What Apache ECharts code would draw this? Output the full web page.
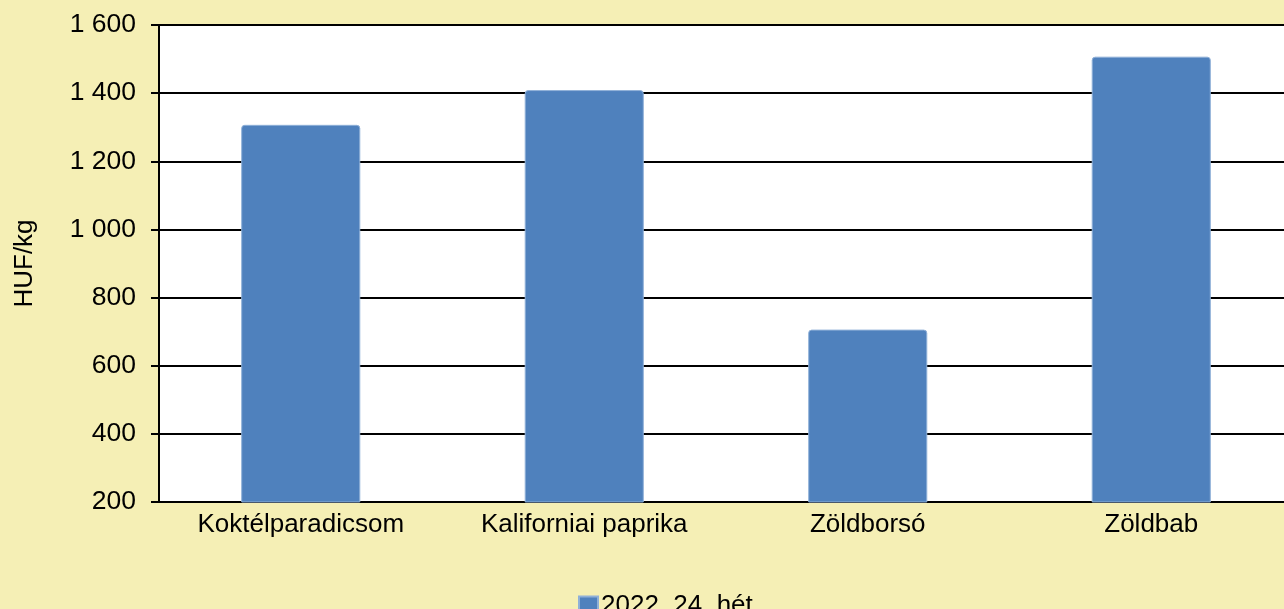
<!DOCTYPE html>
<html>
<head>
<meta charset="utf-8">
<title>Zöldség árak</title>
<script src="https://cdn.jsdelivr.net/npm/echarts@6/dist/echarts.min.js"></script>
<style>
  html, body { margin: 0; padding: 0; background: #F5EFB5; overflow: hidden; }
  #chart { width: 1284px; height: 609px; }
</style>
</head>
<body>
<div id="chart"></div>
<script>
// adatok
const categories = ['Koktélparadicsom', 'Kaliforniai paprika', 'Zöldborsó', 'Zöldbab']
const prices = [1307, 1409, 706, 1507]
const seriesName = '2022. 24. hét'
const yTicks = { min: 200, max: 1600, step: 200 }

const chart = echarts.init(document.getElementById('chart'))

// ezres tagolás szóközzel
function fmt (v) {
  return String(v).replace(/\B(?=(\d{3})+(?!\d))/g, ' ')
}

const font = 'Liberation Sans, Arial, sans-serif'

const option = {
  backgroundColor: '#F5EFB5',
  animation: false,
  grid: {
    left: 159,
    width: 1134, // a rajzterület kilóg a kép jobb szélén
    top: 25,
    bottom: 107,
    outerBoundsMode: 'none',
    show: true,
    backgroundColor: '#ffffff',
    borderWidth: 0
  },
  legend: {
    left: 573,
    top: 588,
    itemWidth: 19,
    itemHeight: 19,
    icon: 'rect',
    textStyle: { fontFamily: font, fontSize: 26, color: '#000', padding: [0, 0, 0, -2] },
    data: [seriesName]
  },
  xAxis: {
    type: 'category',
    data: categories,
    axisLine: { show: true, lineStyle: { color: '#000', width: 2 } },
    axisTick: { show: false },
    axisLabel: { fontFamily: font, fontSize: 26, color: '#000', margin: 10 }
  },
  yAxis: {
    type: 'value',
    name: 'HUF/kg',
    nameLocation: 'middle',
    nameGap: 121,
    nameRotate: 90,
    nameTextStyle: { fontFamily: font, fontSize: 26, color: '#000' },
    min: yTicks.min,
    max: yTicks.max,
    interval: yTicks.step,
    axisLine: { show: true, lineStyle: { color: '#000', width: 2 } },
    axisTick: { show: true, length: 8, lineStyle: { color: '#000', width: 2 } },
    axisLabel: { fontFamily: font, fontSize: 26.5, color: '#000', margin: 23, formatter: fmt },
    splitLine: { show: true, lineStyle: { color: '#000', width: 2 } }
  },
  series: [
    {
      name: seriesName,
      type: 'bar',
      data: prices,
      barWidth: '42%',
      itemStyle: {
        color: '#4F81BD',
        borderColor: '#8FB0D8',
        borderWidth: 1,
        borderRadius: [3, 3, 0, 0]
      }
    }
  ]
}

chart.setOption(option)
</script>
</body>
</html>
